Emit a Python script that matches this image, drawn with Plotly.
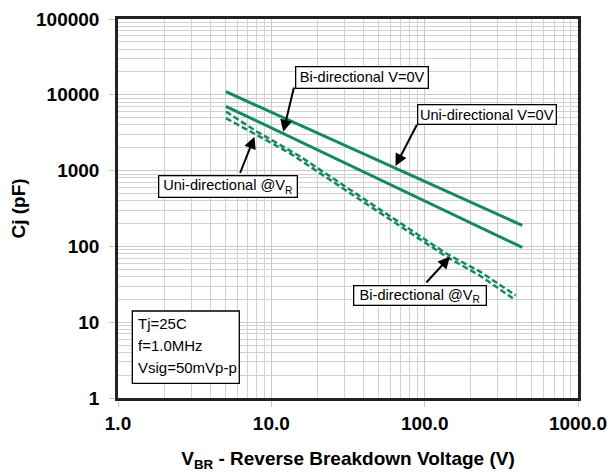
import plotly.graph_objects as go

# ---------------- data ----------------
uni_0v_x = [5.05, 63.0, 433.0]
uni_0v_y = [11000, 1097, 189]

bi_0v_x = [5.05, 60.0, 433.0]
bi_0v_y = [7050, 650, 97]

uni_vr_x = [5.06, 8.03, 15.4, 32.6, 88.7, 139, 230, 392]
uni_vr_y = [6010, 3275, 1535, 558, 147, 80, 46.4, 22.6]

bi_vr_x = [5.06, 8.44, 13.2, 32.6, 88.7, 139, 230, 378]
bi_vr_y = [4920, 2815, 1700, 505, 134, 73, 41, 20.5]

x_tickvals = [1, 10, 100, 1000]
x_ticktext = ["1.0", "10.0", "100.0", "1000.0"]
y_tickvals = [1, 10, 100, 1000, 10000, 100000]
y_ticktext = ["1", "10", "100", "1000", "10000", "100000"]

GREEN = "#138a5e"
FONT = "Liberation Sans"

# page offset of the figure (default 8px body margin)
OFF = 8
W, H = 615 - OFF, 476 - OFF
# plot area in page pixels
L, R, T, B = 118, 578, 19, 398


def lx(px):
    return (px - L) / (R - L) * 3


def ly(py):
    return (B - py) / (B - T) * 5


def xp(px):
    return (px - L) / (R - L)


def yp(py):
    return (B - py) / (B - T)


fig = go.Figure()
fig.add_trace(go.Scatter(x=uni_0v_x, y=uni_0v_y, mode="lines",
                         line=dict(color=GREEN, width=3), showlegend=False))
fig.add_trace(go.Scatter(x=bi_0v_x, y=bi_0v_y, mode="lines",
                         line=dict(color=GREEN, width=3), showlegend=False))
fig.add_trace(go.Scatter(x=uni_vr_x, y=uni_vr_y, mode="lines",
                         line=dict(color=GREEN, width=2.5, dash="6px,3px"), showlegend=False))
fig.add_trace(go.Scatter(x=bi_vr_x, y=bi_vr_y, mode="lines",
                         line=dict(color=GREEN, width=2.5, dash="6px,3px"), showlegend=False))

# label boxes: (text, x0, y0, x1, y1) in page pixels
boxes = [
    ("Bi-directional V=0V", 294.3, 66, 429, 89.3),
    ("Uni-directional V=0V", 416.7, 104, 556.7, 125.7),
    ("Uni-directional @V<sub>R</sub>", 157.7, 174.3, 297.7, 197.7),
    ("Bi-directional @V<sub>R</sub>", 353.3, 285, 487.3, 306.7),
]
# arrows: tail -> tip
arrows = [
    (294.3, 86, 283.3, 131.7),
    (417.7, 123.3, 395.5, 166),
    (239.5, 174.5, 254.5, 136.7),
    (425, 284, 450, 256.7),
]

annotations = []
for (tx, ty, hx, hy) in arrows:
    annotations.append(dict(
        x=lx(hx), y=ly(hy), xref="x", yref="y",
        ax=lx(tx), ay=ly(ty), axref="x", ayref="y",
        text="", showarrow=True, arrowhead=2, arrowsize=1.2,
        arrowwidth=2, arrowcolor="black", standoff=0, startstandoff=0))

for (txt, x0, y0, x1, y1) in boxes:
    annotations.append(dict(
        x=lx((x0 + x1) / 2), y=ly((y0 + y1) / 2), xref="x", yref="y",
        text=txt, showarrow=False, xanchor="center", yanchor="middle",
        width=x1 - x0 - 3, height=y1 - y0 - 3,
        bgcolor="white", bordercolor="black", borderwidth=1.3, borderpad=0,
        font=dict(family=FONT, size=14.6, color="black")))

for txt, cy in [("Tj=25C", 323.3), ("f=1.0MHz", 345), ("Vsig=50mVp-p", 367.7)]:
    annotations.append(dict(
        x=xp(136), y=yp(cy), xref="paper", yref="paper",
        text=txt, showarrow=False, xanchor="left", yanchor="middle",
        font=dict(family=FONT, size=15, color="black")))

shapes = [dict(type="rect", xref="paper", yref="paper",
               x0=xp(132.3), x1=xp(239.3), y0=yp(383.3), y1=yp(311),
               fillcolor="white", line=dict(color="black", width=1.3),
               layer="above")]

axis_common = dict(
    type="log", showline=True, mirror=True, linecolor="#222222", linewidth=2.5,
    showgrid=True, gridcolor="#c8c8c8", gridwidth=1,
    ticks="outside", ticklen=6, tickcolor="#c8c8c8", tickwidth=1,
    tickfont=dict(family=FONT, size=19, color="black", weight="bold"),
    minor=dict(showgrid=True, gridcolor="#d2d2d2", gridwidth=1, dtick="D1", ticks=""),
    zeroline=False,
)

fig.update_layout(
    width=W, height=H,
    margin=dict(l=L - OFF, r=615 - R, t=T - OFF, b=476 - B, autoexpand=False),
    paper_bgcolor="white", plot_bgcolor="white",
    xaxis=dict(axis_common, range=[0, 3], tickvals=x_tickvals, ticktext=x_ticktext,
               ticklabelstandoff=0,
               title=dict(text="V<sub>BR</sub> - Reverse Breakdown Voltage (V)",
                          font=dict(family=FONT, size=19, color="black", weight="bold"),
                          standoff=20)),
    yaxis=dict(axis_common, range=[0, 5], tickvals=y_tickvals, ticktext=y_ticktext,
               ticklabelstandoff=6,
               title=dict(text="Cj (pF)",
                          font=dict(family=FONT, size=19, color="black", weight="bold"),
                          standoff=8)),
    annotations=annotations,
    shapes=shapes,
    showlegend=False,
)

fig.write_html("out.html")
